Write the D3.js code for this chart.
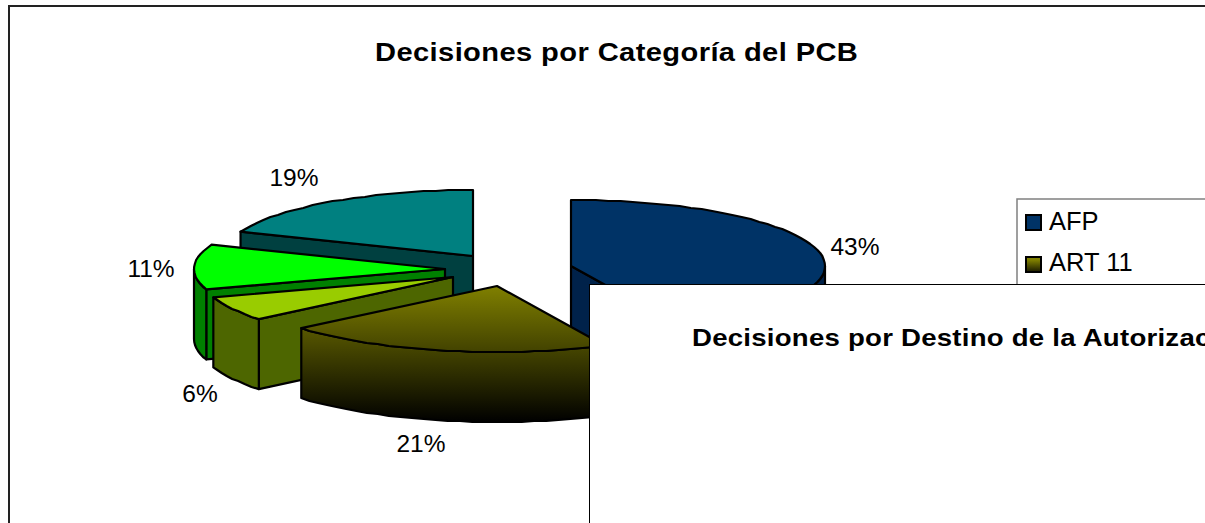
<!DOCTYPE html>
<html><head><meta charset="utf-8"><script src="https://d3js.org/d3.v7.min.js"></script>
<style>html,body{margin:0;padding:0;background:#fff;overflow:hidden}svg{display:block}text{font-family:"Liberation Sans",Arial,sans-serif;fill:#000}</style></head>
<body><svg id="c" width="1205" height="523"></svg>
<script>
const categories=["AFP","ART 11","Cat3","Cat4","Cat5"];
const values=[43,21,6,11,19];
const labels=["43%","21%","6%","11%","19%"];
const legendItems=["AFP","ART 11"];
const chartTitle="Decisiones por Categoría del PCB";
const overlayTitle="Decisiones por Destino de la Autorización";
const topColors=["#003366","url(#g21)","#99cc00","#00ff00","#008080"];
const wallColors=["#00224a","url(#g21)","#4d6600","#008000","#004040"];
const centers=[[571,266],[497,286],[453,277],[445,269],[473,256]];
const radiiX=[254,254,252,251,250];
const labelPos=[[855,246],[421,443],[200,393],[151,268],[294,177]];
const ry=66,depth=70;

const svg=d3.select("#c");
const defs=svg.append("defs");
const grad=defs.append("linearGradient").attr("id","g21").attr("gradientUnits","userSpaceOnUse").attr("x1",0).attr("x2",0).attr("y1",286).attr("y2",422);
grad.append("stop").attr("offset",0).attr("stop-color","#808000");
grad.append("stop").attr("offset",1).attr("stop-color","#000000");
const lg=defs.append("linearGradient").attr("id","gl").attr("x1",0).attr("x2",0).attr("y1",0).attr("y2",1);
lg.append("stop").attr("offset",0.2).attr("stop-color","#808000");
lg.append("stop").attr("offset",1).attr("stop-color","#1a1a00");
defs.append("clipPath").attr("id","ov").append("rect").attr("x",590).attr("y",285).attr("width",615).attr("height",238);

svg.append("rect").attr("x",9).attr("y",6).attr("width",1300).attr("height",600).attr("fill","#fff").attr("stroke","#222").attr("stroke-width",2);
svg.append("text").attr("transform","translate(375,61) scale(1.12,1)").attr("font-size",26).attr("font-weight","bold").attr("letter-spacing",0.35).text(chartTitle);

const arcs=d3.pie().sort(null).value(d=>d)(values);
const line=d3.line();
order=[4,3,2,0,1];
const g=svg.append("g").attr("stroke","#000").attr("stroke-width",2.2).attr("stroke-linejoin","round");
order.forEach(i=>{
  const a=arcs[i],c=centers[i],s=a.startAngle,e=a.endAngle,rx=radiiX[i];
  const pt=(ang,dz=0)=>[c[0]+rx*Math.sin(ang),c[1]-ry*Math.cos(ang)+dz];
  const rim=(a0,a1,dz=0)=>{const n=Math.max(2,Math.ceil((a1-a0)/0.05));return d3.range(n+1).map(k=>{const p=pt(a0+(a1-a0)*k/n,dz);return (k===0||k===n)?p:[p[0],Math.round(p[1])];});};
  const face=ang=>{const p=pt(ang);return [c,p,[p[0],p[1]+depth],[c[0],c[1]+depth]];};
  if(Math.sin(s)<-1e-6) g.append("path").attr("d",line(face(s))+"Z").attr("fill",wallColors[i]);
  if(Math.sin(e)>1e-6) g.append("path").attr("d",line(face(e))+"Z").attr("fill",wallColors[i]);
  const lo=Math.max(s,Math.PI/2),hi=Math.min(e,Math.PI*1.5);
  if(hi>lo){const r=rim(lo,hi);const b=rim(lo,hi,depth).reverse();
    g.append("path").attr("d",line(r.concat(b))+"Z").attr("fill",wallColors[i]);}
  g.append("path").attr("d",line([c].concat(rim(s,e)))+"Z").attr("fill",topColors[i]);
});

labels.forEach((t,i)=>svg.append("text").attr("x",labelPos[i][0]).attr("y",labelPos[i][1]).attr("dy","0.35em").attr("text-anchor","middle").attr("font-size",24.5).text(t));

const swatchY=[215,257], textY=[229.5,271];
svg.append("rect").attr("x",1017).attr("y",199).attr("width",300).attr("height",120).attr("fill","#fff").attr("stroke","#808080").attr("stroke-width",1.5);
legendItems.forEach((t,i)=>{
  svg.append("rect").attr("x",1026).attr("y",swatchY[i]).attr("width",15).attr("height",15).attr("fill",i?"url(#gl)":topColors[0]).attr("stroke","#000").attr("stroke-width",2);
  svg.append("text").attr("x",1049).attr("y",textY[i]).attr("font-size",25.5).text(t);
});

svg.append("rect").attr("x",589.5).attr("y",284.5).attr("width",800).attr("height",400).attr("fill","#fff").attr("stroke","#000");
svg.append("g").attr("clip-path","url(#ov)").append("text").attr("transform","translate(692,346) scale(1.2,1)").attr("font-size",23).attr("font-weight","bold").attr("letter-spacing",0.2).text(overlayTitle);
</script></body></html>
